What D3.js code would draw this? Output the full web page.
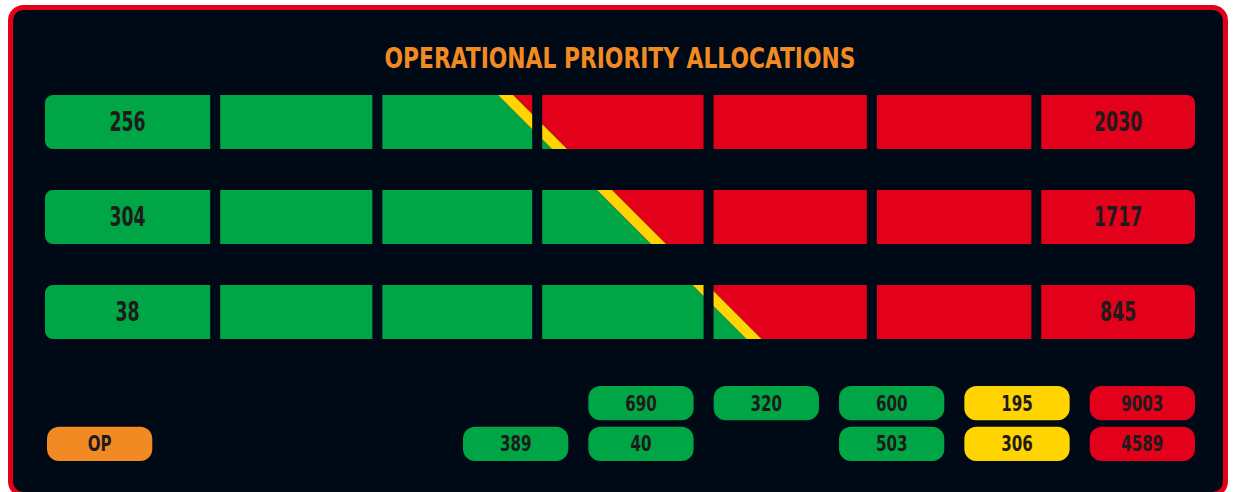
<!DOCTYPE html>
<html>
<head>
<meta charset="utf-8">
<script src="https://cdn.jsdelivr.net/npm/d3@7"></script>
<style>
body { margin: 0; background: #ffffff; }
text { font-family: "Liberation Sans Narrow", "DejaVu Sans Condensed", "Roboto Condensed", sans-serif; font-weight: bold; }
</style>
</head>
<body>
<div id="chart"></div>
<script>
const
svgWidth = 1233,
svgHeight = 492;

// gauge rows
const rows = ["A", "B", "C"];
const leftValues = [256, 304, 38];
const rightValues = [2030, 1717, 845];
// where green turns red, in % of the gauge
const transitions = [42.4, 51.0, 59.3];
// segment dividers, in % of the gauge
const segmentBreaks = [14.8, 28.9, 42.8, 57.7, 71.9, 86.2];

// summary pills
const pillCols = ["a", "b", "c", "d", "e", "f"];
const pillTop = [null, 690, 320, 600, 195, 9003];
const pillBottom = [389, 40, null, 503, 306, 4589];
const pillTone = ["green", "green", "green", "green", "yellow", "red"];
const opLabel = "OP";

const title = "OPERATIONAL PRIORITY ALLOCATIONS";

const colors = {
  green: "#00a546",
  red: "#e2001a",
  yellow: "#ffd400",
  orange: "#f28a24",
  bg: "#000a16",
  ink: "#1d1b1b"
};

const svg = d3.select("#chart")
  .append("svg")
  .attr("width", svgWidth)
  .attr("height", svgHeight);

// frame
svg.append("rect")
  .attr("x", 10.5)
  .attr("y", 7.5)
  .attr("width", 1215)
  .attr("height", 487)
  .attr("rx", 13)
  .attr("fill", colors.bg)
  .attr("stroke", colors.red)
  .attr("stroke-width", 5);

svg.append("text")
  .attr("x", 620)
  .attr("y", 68)
  .attr("text-anchor", "middle")
  .attr("font-size", 29)
  .attr("textLength", 471)
  .attr("lengthAdjust", "spacingAndGlyphs")
  .attr("fill", colors.orange)
  .text(title);

// narrow label: squeeze the glyphs horizontally like a condensed face
function narrowLabel(x, y, size, squeeze, label) {
  svg.append("text")
    .attr("transform", `translate(${x},${y}) scale(${squeeze},1)`)
    .attr("dy", "0.36em")
    .attr("text-anchor", "middle")
    .attr("font-size", size)
    .attr("fill", colors.ink)
    .text(label);
}

const xScale = d3.scaleLinear()
  .domain([0, 100])
  .range([45, 1195]);

const yScale = d3.scaleBand()
  .domain(rows)
  .range([95, 339])
  .paddingInner(0.43);

const gap = 10;
const h = yScale.bandwidth();

function cellPath(x0, x1, y0, y1, rl, rr) {
  const p = d3.path();
  p.moveTo(x0 + rl, y0);
  p.lineTo(x1 - rr, y0);
  if (rr) p.arcTo(x1, y0, x1, y0 + rr, rr);
  p.lineTo(x1, y1 - rr);
  if (rr) p.arcTo(x1, y1, x1 - rr, y1, rr);
  p.lineTo(x0 + rl, y1);
  if (rl) p.arcTo(x0, y1, x0, y1 - rl, rl);
  p.lineTo(x0, y0 + rl);
  if (rl) p.arcTo(x0, y0, x0 + rl, y0, rl);
  p.closePath();
  return p.toString();
}

const edges = [0].concat(segmentBreaks, [100]);
const segments = d3.range(edges.length - 1).map(i => ({
  i: i,
  x0: xScale(edges[i]) + (i === 0 ? 0 : gap / 2),
  x1: xScale(edges[i + 1]) - (i === edges.length - 2 ? 0 : gap / 2)
}));

const defs = svg.append("defs");
const stripe = 15;

rows.forEach(function(r, k) {
  const y0 = yScale(r), y1 = y0 + h;
  const clip = defs.append("clipPath").attr("id", "clip-" + r);
  clip.selectAll("path")
    .data(segments)
    .enter()
    .append("path")
    .attr("d", s => cellPath(s.x0, s.x1, y0, y1,
      s.i === 0 ? 8 : 0, s.i === segments.length - 1 ? 8 : 0));

  const g = svg.append("g").attr("clip-path", `url(#clip-${r})`);
  const cx = xScale(transitions[k]);
  const tl = cx - h / 2, bl = cx + h / 2;
  const x0 = xScale.range()[0], x1 = xScale.range()[1];
  const poly = pts => "M" + pts.map(p => p.join(",")).join("L") + "Z";

  g.append("path")
    .attr("d", poly([[x0, y0], [tl - stripe / 2, y0], [bl - stripe / 2, y1], [x0, y1]]))
    .attr("fill", colors.green);
  g.append("path")
    .attr("d", poly([[tl + stripe / 2, y0], [x1, y0], [x1, y1], [bl + stripe / 2, y1]]))
    .attr("fill", colors.red);
  g.append("path")
    .attr("d", poly([[tl - stripe / 2, y0], [tl + stripe / 2, y0], [bl + stripe / 2, y1], [bl - stripe / 2, y1]]))
    .attr("fill", colors.yellow);

  const first = segments[0], last = segments[segments.length - 1];
  narrowLabel((first.x0 + first.x1) / 2, y0 + h / 2, 26, 0.74, leftValues[k]);
  narrowLabel((last.x0 + last.x1) / 2, y0 + h / 2, 26, 0.74, rightValues[k]);
});

// pills
const pxScale = d3.scaleBand()
  .domain(pillCols)
  .range([463, 1195])
  .paddingInner(0.16);

const pyScale = d3.scaleBand()
  .domain(["top", "bottom"])
  .range([386, 461])
  .paddingInner(0.16);

function pill(x, y, w, fill, label) {
  svg.append("rect")
    .attr("x", x)
    .attr("y", y)
    .attr("width", w)
    .attr("height", pyScale.bandwidth())
    .attr("rx", 12)
    .attr("fill", fill);
  narrowLabel(x + w / 2, y + pyScale.bandwidth() / 2, 21, 0.8, label);
}

[["top", pillTop], ["bottom", pillBottom]].forEach(function([key, vals]) {
  vals.forEach(function(v, i) {
    if (v === null) return;
    pill(pxScale(pillCols[i]), pyScale(key), pxScale.bandwidth(), colors[pillTone[i]], v);
  });
});

pill(47, pyScale("bottom"), pxScale.bandwidth(), colors.orange, opLabel);
</script>
</body>
</html>
